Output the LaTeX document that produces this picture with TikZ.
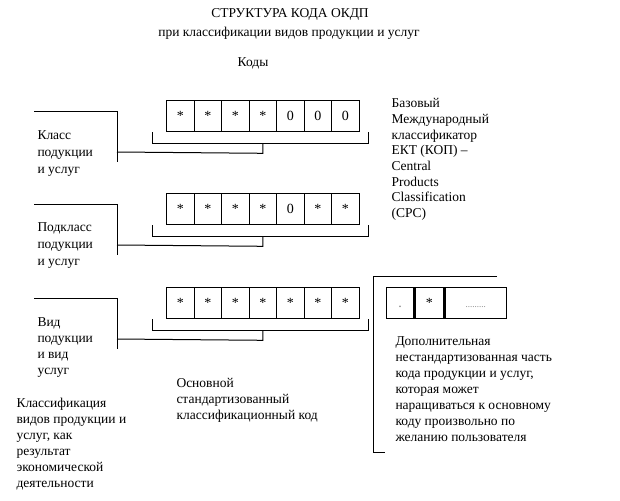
\documentclass[tikz,border=0pt]{standalone}
\usepackage{fontspec}
\setmainfont{Liberation Serif}
\usetikzlibrary{positioning}

\tikzset{
  cell/.style={draw, line width=1.3pt, minimum width=27.5pt, minimum height=31pt,
    inner sep=0pt, anchor=north west, text height=9pt, text depth=0pt,
    font=\fontsize{14}{14}\selectfont},
  txt/.style={anchor=north west, inner sep=0pt, align=left,
    font=\fontsize{13.5}{16}\selectfont},
  head/.style={anchor=base, inner sep=0pt, font=\fontsize{13.5}{16}\selectfont},
}

\begin{document}
\begin{tikzpicture}[x=1pt,y=-1pt,line width=1pt]
    \useasboundingbox (0,0) rectangle (620,500);

    % Headings
    \node[head] (title) at (290,17.5) {СТРУКТУРА КОДА ОКДП};
    \node[head] (subtitle) at (289,37) {при классификации видов продукции и услуг};
    \node[head] (codes) at (253,67) {Коды};

    % Code rows with brackets and lines to the labels
    \foreach \r/\y/\digits in {1/100/{*,*,*,*,0,0,0}, 2/193/{*,*,*,*,0,*,*}, 3/287/{*,*,*,*,*,*,*}} {
        \foreach \d [count=\i] in \digits
            \node[cell] (c\r-\i) at ({166+27.5*(\i-1)},\y) {\d};
        \draw ([xshift=-14pt]c\r-1.south west) -- ++(0,11) -| ([xshift=9pt]c\r-7.south east);
        \draw ([yshift=-11pt]c\r-4.south) -- ++(0,10) -- (117,\y+52);
        \draw (34,\y+11) -- (117,\y+11) -- (117,\y+62);
    }

    % Labels on the left
    \node[txt, font=\fontsize{13.5}{17}\selectfont] (lab1) at (37,130) {Класс\\подукции\\и услуг};
    \node[txt, font=\fontsize{13.5}{17}\selectfont] (lab2) at (37,222) {Подкласс\\подукции\\и услуг};
    \node[txt, font=\fontsize{13.5}{16}\selectfont] (lab3) at (37,317) {Вид\\подукции\\и вид\\услуг};

    % Base classifier
    \node[txt, font=\fontsize{13.5}{15.7}\selectfont] (cpc) at (391,98)
        {Базовый\\Международный\\классификатор\\ЕКТ (КОП) –\\Central\\Products\\Classification\\(CPC)};

    % Additional part
    \node[cell, minimum width=27pt] (e1) at (386,287) {\textcolor{gray}{.}};
    \node[cell, minimum width=29pt] (e2) at (e1.north east) {*};
    \node[cell, minimum width=61pt] (e3) at (e2.north east) {\textcolor{gray}{\fontsize{9}{9}\selectfont.........}};
    \draw (497,276) -- (373,276) -- (373,452) -- (385,452);
    \node[txt] (extra) at (395,336) {Дополнительная\\нестандартизованная часть\\кода продукции и услуг,\\которая может\\наращиваться к основному\\коду произвольно по\\желанию пользователя};

    % Bottom texts
    \node[txt] (base) at (176,378) {Основной\\стандартизованный\\классификационный код};
    \node[txt] (kind) at (16,398) {Классификация\\видов продукции и\\услуг, как\\результат\\экономической\\деятельности};
\end{tikzpicture}
\end{document}
